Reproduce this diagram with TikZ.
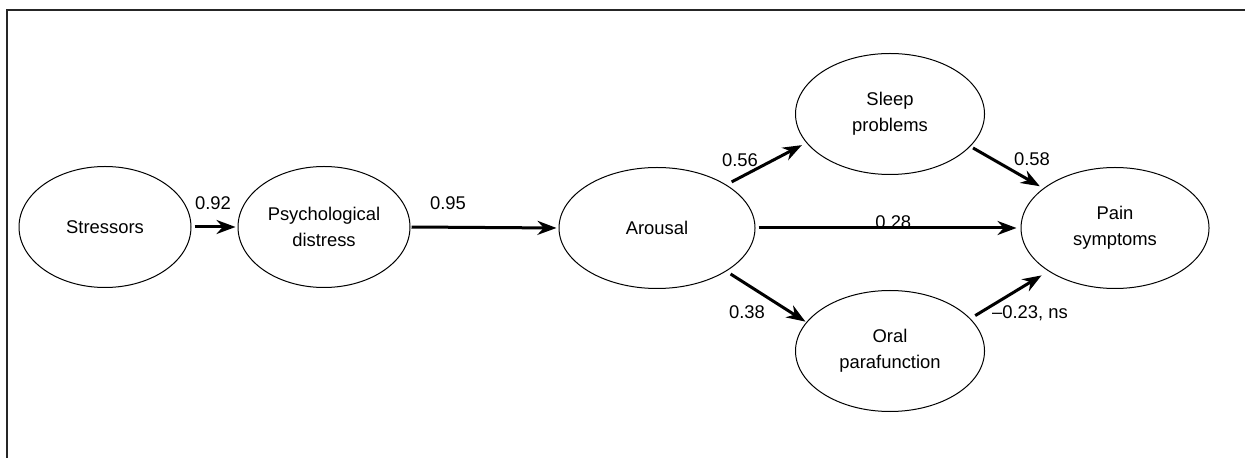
\documentclass[tikz,border=0pt]{standalone}
\usepackage{fontspec}
\setmainfont{Liberation Sans}
\usetikzlibrary{shapes.geometric,arrows.meta}

\begin{document}
\begin{tikzpicture}[x=.5pt,y=-.5pt,>={Stealth[length=9.5pt,width=7pt]},
  var/.style={ellipse,draw,line width=.5pt,inner sep=0pt,align=center,
    minimum height=60.5pt,font=\fontsize{9.2}{13}\selectfont},
  link/.style={->,line width=1.5pt},
  coef/.style={inner sep=0pt,font=\fontsize{9.2}{11}\selectfont}]
            \useasboundingbox (0,0) rectangle (1245,458);
            \draw[line width=.7pt,black!85] (7,458) -- (7,10) -- (1245,10);
            \node[var,minimum width=86pt] (Str) at (105, 227) {Stressors};
            \node[var,minimum width=86pt] (Psy) at (324, 227) {Psychological\\distress};
            \node[var,minimum width=98pt] (Aro) at (657, 228) {Arousal};
            \node[var,minimum width=94.5pt] (Slp) at (890, 114) {Sleep\\problems};
            \node[var,minimum width=94.5pt] (Ora) at (890, 351) {Oral\\parafunction};
            \node[var,minimum width=94pt] (Pai) at (1115, 228) {Pain\\symptoms};
            \draw[link,shorten <=1.5pt,shorten >=1pt] (Str.east) -- (Psy.west);
            \draw[link,shorten <=.5pt,shorten >=1pt] (Psy.east) -- (Aro.west);
            \draw[link,shorten <=1.5pt,shorten >=2pt] (Aro.east) -- (Pai.west)
                node[coef,pos=.52,anchor=base,yshift=-.5pt] {0.28};
            \draw[link,shorten <=3pt,shorten >=2.5pt] (Aro.32) -- (Slp.199);
            \draw[link,shorten <=1.5pt,shorten >=2pt] (Slp.338) -- (Pai.151);
            \draw[link,shorten <=2.5pt,shorten >=.5pt] (Aro.328) -- (Ora.161);
            \draw[link,shorten <=2.8pt,shorten >=4pt] (Ora.22) -- (Pai.213);
            \node[coef] (c1) at (213, 203) {0.92};
            \node[coef] (c2) at (448, 203) {0.95};
            \node[coef] (c3) at (740, 160) {0.56};
            \node[coef] (c4) at (1032, 159) {0.58};
            \node[coef] (c5) at (747, 312) {0.38};
            \node[coef] (c6) at (1030, 313) {--0.23, ns};
        \end{tikzpicture}
\end{document}
